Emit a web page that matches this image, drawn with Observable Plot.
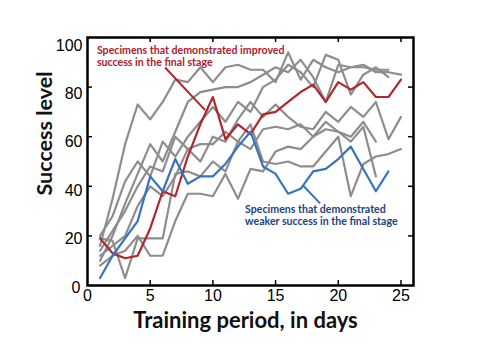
<!DOCTYPE html>
<html>
<head>
<meta charset="utf-8">
<script src="https://cdn.jsdelivr.net/npm/d3@7"></script>
<script src="https://cdn.jsdelivr.net/npm/@observablehq/plot@0.6"></script>
<style>
  html, body { margin: 0; padding: 0; background: #fff; }
  #chart { width: 490px; height: 352px; }
</style>
</head>
<body>
<div id="chart"></div>
<script>
// ---- data ----
const days = [1,2,3,4,5,6,7,8,9,10,11,12,13,14,15,16,17,18,19,20,21,22,23,24,25];

const improved = [19,13,11,12,23,38,36,52,65,76,59,65,61,69,70,74,78,81,74,82,79,82,76,76,83];
const weaker   = [3,12,19,26,44,38,51,41,44,44,49,56,62,48,45,37,39,46,47,51,56,47,38,46,null];

const gray1 = [16,35,57,73,67,74,83,82,88,82,88,89,87,87,82,94,83,91,88,86,88,88,87,87,null];
const gray2 = [10,20,33,45,57,50,62,74,78,79,80,80,82,85,88,86,91,84,74,89,88,89,86,86,85];
const gray3 = [20,28,42,50,44,58,52,60,66,72,66,74,70,80,83,89,86,80,93,91,77,85,88,84,null];
const gray4 = [14,22,30,40,48,46,60,55,50,60,58,67,74,68,73,68,64,63,70,66,72,68,74,59,68];
const gray5 = [19,18,3,19,19,19,45,46,44,50,46,58,55,63,64,63,65,60,66,62,60,66,58,null,null];
const gray6 = [12,16,20,32,40,36,44,55,57,57,62,58,65,50,49,50,48,48,54,60,36,49,52,53,55];
const gray7 = [8,12,14,20,12,12,26,37,37,36,45,35,47,46,54,56,55,60,63,62,58,64,44,null,null];

const xTicks = [0,5,10,15,20,25];
const yTicks = [0,20,40,60,80,100];

const xTitle = "Training period, in days";
const yTitle = "Success level";

const notes = [
  {day: 0.75, value: 96.8, text: "Specimens that demonstrated improved\nsuccess in the final stage", group: "improved"},
  {day: 12.57, value: 32.6, text: "Specimens that demonstrated\nweaker success in the final stage", group: "weaker"}
];
const pointers = [
  {d1: 6.19, v1: 87.9, d2: 9.38, v2: 70.7, group: "improved"},
  {d1: 17.19, v1: 40.3, d2: 18.55, v2: 33.1, group: "weaker"}
];
// axis-title anchors, in data units
const titlePos = {yTitleDay: -3.38, yTitleValue: 61.3};

// ---- build table ----
function toRows(series, name) {
  return days.map((d, i) => ({day: d, value: series[i], name})).filter(r => r.value != null);
}
const grays = [gray1, gray2, gray3, gray4, gray5, gray6, gray7];
const grayRows = grays.flatMap((s, k) => toRows(s, "g" + k));
const redRows = toRows(improved, "improved");
const blueRows = toRows(weaker, "weaker");

const RED = "#b0262b";
const BLUE = "#3674c0";
const REDTEXT = "#b0202a";
const BLUETEXT = "#233f86";
const GRAY = "#8d8d8d";

const labelFont = {fontSize: 16, fontFamily: "Liberation Sans", fill: "#000", label: null, tickSize: 0};

const chart = Plot.plot({
  width: 490,
  height: 352,
  marginLeft: 87,
  marginRight: 77,
  marginTop: 37,
  marginBottom: 67,
  x: {domain: [0, 26], axis: null},
  y: {domain: [0, 100], axis: null},
  style: {background: "#fff"},
  marks: [
    Plot.line(grayRows, {x: "day", y: "value", z: "name", stroke: GRAY, strokeWidth: 2.2}),
    Plot.line(redRows, {x: "day", y: "value", stroke: RED, strokeWidth: 2.2}),
    Plot.line(blueRows, {x: "day", y: "value", stroke: BLUE, strokeWidth: 2.2}),
    Plot.link(pointers, {x1: "d1", y1: "v1", x2: "d2", y2: "v2",
      stroke: d => d.group === "improved" ? RED : BLUE, strokeWidth: 2}),
    Plot.text(notes, {x: "day", y: "value", text: "text", textAnchor: "start", lineAnchor: "top",
      lineHeight: 1.12, fontSize: 10.6, fontWeight: "bold", fontFamily: "Lato",
      fill: d => d.group === "improved" ? REDTEXT : BLUETEXT}),
    // inward ticks
    Plot.ruleX(xTicks.filter(t => t > 0), {x: d => d, y1: 0, y2: 2, stroke: "#000", strokeWidth: 1.5}),
    Plot.ruleX(xTicks.filter(t => t > 0), {x: d => d, y1: 98, y2: 100, stroke: "#000", strokeWidth: 1.5}),
    Plot.ruleY(yTicks.filter(t => t > 0 && t < 100), {y: d => d, x1: 0, x2: 0.4, stroke: "#000", strokeWidth: 1.5}),
    Plot.ruleY(yTicks.filter(t => t > 0 && t < 100), {y: d => d, x1: 25.6, x2: 26, stroke: "#000", strokeWidth: 1.5}),
    Plot.frame({stroke: "#000", strokeWidth: 2.5}),
    Plot.axisX(xTicks, {...labelFont, tickPadding: 4}),
    ...yTicks.map(t => Plot.axisY([t], {...labelFont, tickPadding: t === 0 ? 7 : 5, dy: 2 + 0.06 * t})),
    Plot.text([xTitle], {text: d => d, frameAnchor: "bottom", lineAnchor: "middle", dy: 35, dx: -5,
      fontSize: 22, fontWeight: "bold", fontFamily: "Lato", fill: "#111"}),
    Plot.text([yTitle], {text: d => d, x: () => titlePos.yTitleDay, y: () => titlePos.yTitleValue,
      rotate: -90, fontSize: 21.5, fontWeight: "bold", fontFamily: "Lato", fill: "#111"})
  ]
});
document.getElementById("chart").appendChild(chart);
</script>
</body>
</html>
